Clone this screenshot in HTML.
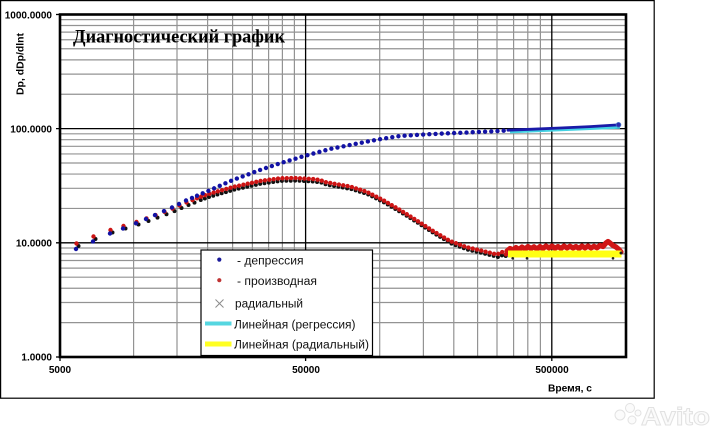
<!DOCTYPE html>
<html><head><meta charset="utf-8"><style>
html,body{margin:0;padding:0;background:#fff;}
svg{display:block;}
</style></head><body>
<svg width="720" height="439" viewBox="0 0 720 439" xmlns="http://www.w3.org/2000/svg">
<rect x="0" y="0" width="720" height="439" fill="#fff"/>
<rect x="0.6" y="0.6" width="653.6" height="397.6" fill="#fff" stroke="#000" stroke-width="1.2"/>

<!-- minor horizontal gridlines -->
<g stroke="#939393" stroke-width="1.2">
<line x1="60" x2="626" y1="322.62" y2="322.62"/><line x1="60" x2="626" y1="302.51" y2="302.51"/><line x1="60" x2="626" y1="288.24" y2="288.24"/><line x1="60" x2="626" y1="277.18" y2="277.18"/><line x1="60" x2="626" y1="268.13" y2="268.13"/><line x1="60" x2="626" y1="260.49" y2="260.49"/><line x1="60" x2="626" y1="253.87" y2="253.87"/><line x1="60" x2="626" y1="248.03" y2="248.03"/>
<line x1="60" x2="626" y1="208.42" y2="208.42"/><line x1="60" x2="626" y1="188.31" y2="188.31"/><line x1="60" x2="626" y1="174.04" y2="174.04"/><line x1="60" x2="626" y1="162.98" y2="162.98"/><line x1="60" x2="626" y1="153.93" y2="153.93"/><line x1="60" x2="626" y1="146.29" y2="146.29"/><line x1="60" x2="626" y1="139.67" y2="139.67"/><line x1="60" x2="626" y1="133.83" y2="133.83"/>
<line x1="60" x2="626" y1="94.22" y2="94.22"/><line x1="60" x2="626" y1="74.11" y2="74.11"/><line x1="60" x2="626" y1="59.84" y2="59.84"/><line x1="60" x2="626" y1="48.78" y2="48.78"/><line x1="60" x2="626" y1="39.73" y2="39.73"/><line x1="60" x2="626" y1="32.09" y2="32.09"/><line x1="60" x2="626" y1="25.47" y2="25.47"/><line x1="60" x2="626" y1="19.63" y2="19.63"/>
<!-- minor vertical gridlines -->
<line y1="14.5" y2="357" x1="133.6" x2="133.6"/><line y1="14.5" y2="357" x1="177" x2="177"/><line y1="14.5" y2="357" x1="207.6" x2="207.6"/><line y1="14.5" y2="357" x1="232.6" x2="232.6"/><line y1="14.5" y2="357" x1="252.4" x2="252.4"/><line y1="14.5" y2="357" x1="268.6" x2="268.6"/><line y1="14.5" y2="357" x1="282.4" x2="282.4"/><line y1="14.5" y2="357" x1="294.4" x2="294.4"/>
<line y1="14.5" y2="357" x1="379.7" x2="379.7"/><line y1="14.5" y2="357" x1="423.4" x2="423.4"/><line y1="14.5" y2="357" x1="453.8" x2="453.8"/><line y1="14.5" y2="357" x1="477.6" x2="477.6"/><line y1="14.5" y2="357" x1="497" x2="497"/><line y1="14.5" y2="357" x1="513.6" x2="513.6"/><line y1="14.5" y2="357" x1="527.8" x2="527.8"/><line y1="14.5" y2="357" x1="540.4" x2="540.4"/>
</g>
<!-- major gridlines -->
<g stroke="#000" stroke-width="1.3">
<line x1="56" x2="626" y1="128.6" y2="128.6"/>
<line x1="56" x2="626" y1="242.8" y2="242.8"/>
<line x1="305.6" x2="305.6" y1="14.5" y2="361"/>
<line x1="551.8" x2="551.8" y1="14.5" y2="361"/>
<line x1="56" x2="60" y1="14.5" y2="14.5"/>
<line x1="56" x2="60" y1="357" y2="357"/>
<line x1="60" x2="60" y1="357" y2="361"/>
</g>

<!-- Title -->
<text x="73" y="42.5" font-family="Liberation Serif, serif" font-weight="bold" font-size="18.5" textLength="212" lengthAdjust="spacingAndGlyphs" fill="#000">Диагностический график</text>

<!-- black radial markers (offset) -->
<g fill="#111">
<circle cx="78.5" cy="246" r="2"/><circle cx="95.5" cy="239" r="2"/><circle cx="112.5" cy="232.5" r="2"/><circle cx="125.5" cy="228.5" r="2"/><circle cx="138.5" cy="224.5" r="2"/><circle cx="148.5" cy="221" r="2"/><circle cx="157.5" cy="217.6" r="2"/><circle cx="166.5" cy="214.3" r="2"/><circle cx="174.5" cy="211.1" r="2"/><circle cx="181.5" cy="208" r="2"/><circle cx="188.5" cy="205" r="2"/><circle cx="194.5" cy="202.6" r="2"/>
</g>
<path transform="translate(1.5,2.6)" d="M197,198.25 L207,194.5 L233,187 L260,181 L280,178.3 L295,178 L313,179 L320,180 L325,182 L333,183.5 L350,186.5 L366,191.5 L383,200 L400,210 L416,220 L433,231 L450,241 L466,247 L483,251 L497,254.5 L502,252 L507,255" fill="none" stroke="#111" stroke-width="4" stroke-linecap="round" stroke-dasharray="0 4.4" stroke-dashoffset="2"/>

<!-- red derivative -->
<g fill="#cc1414">
<circle cx="76.5" cy="243.5" r="2.2"/><circle cx="93.5" cy="236.5" r="2.2"/><circle cx="110.5" cy="230" r="2.2"/><circle cx="123.5" cy="226" r="2.2"/><circle cx="136.5" cy="222" r="2.2"/><circle cx="146.5" cy="218.4" r="2.2"/><circle cx="155.5" cy="215.1" r="2.2"/><circle cx="164.5" cy="211.8" r="2.2"/><circle cx="172.5" cy="208.6" r="2.2"/><circle cx="179.5" cy="205.5" r="2.2"/><circle cx="186.5" cy="202.4" r="2.2"/><circle cx="192.5" cy="200.1" r="2.2"/>
</g>
<path d="M197,198.25 L207,194.5 L233,187 L260,181 L280,178.3 L295,178 L313,179 L320,180 L325,182 L333,183.5 L350,186.5 L366,191.5 L383,200 L400,210 L416,220 L433,231 L450,241 L466,247 L483,251 L497,254.5 L502,252 L507,255" fill="none" stroke="#cc1414" stroke-width="4.4" stroke-linecap="round" stroke-dasharray="0 4.4"/>
<polyline points="507,251 510,248.5 513,250 516,247.5 519,249.5 522,247 525,249 528,246.5 531,248.5 534,246.8 537,249 540,246.5 543,248.5 546,246 549,248 552,246 555,248.3 558,246.5 561,248.5 564,246 567,248 570,246.2 573,248 576,246.5 579,248.5 582,246 585,248 588,246 591,248 594,246.3 597,247.8 600,245.5 603,246.5 606,243 608,241.5 610,243 613,245.5 616,247 619,249.5 621,252" fill="none" stroke="#d01616" stroke-width="5.2" stroke-linejoin="round" stroke-linecap="round"/>

<!-- yellow radial trendline -->
<line x1="508" y1="254" x2="621.5" y2="254" stroke="#ffff14" stroke-width="7"/>
<g fill="#222"><circle cx="512.7" cy="258.3" r="1.3"/><circle cx="527" cy="258.3" r="1.3"/><circle cx="613" cy="258.3" r="1.3"/><circle cx="621" cy="253" r="1.5"/></g>

<!-- blue depression -->
<g fill="#1212a4">
<circle cx="76" cy="249" r="2.2"/><circle cx="93" cy="241.5" r="2.2"/><circle cx="110" cy="233.5" r="2.2"/><circle cx="123" cy="228.5" r="2.2"/><circle cx="136" cy="223.3" r="2.2"/><circle cx="146" cy="219" r="2.2"/><circle cx="155" cy="215.1" r="2.2"/><circle cx="164" cy="211.1" r="2.2"/><circle cx="172" cy="207.5" r="2.2"/><circle cx="179" cy="204" r="2.2"/><circle cx="186" cy="200.5" r="2.2"/><circle cx="192" cy="197.9" r="2.2"/>
</g>
<path d="M197,195.75 L207,191.5 L233,180 L260,170 L280,163.3 L305,155.8 L330,149 L355,144 L378,139.5 L400,136 L433,134 L467,132.5 L500,131 L508,130.4" fill="none" stroke="#1212a4" stroke-width="4.4" stroke-linecap="round" stroke-dasharray="0 6.2"/>
<!-- cyan regression -->
<line x1="510" y1="131.6" x2="620" y2="127" stroke="#44d2e2" stroke-width="3.6"/>
<polyline points="508,130.2 530,129.3 560,128 590,126.6 618,124.9" fill="none" stroke="#1a1aa8" stroke-width="2.8" stroke-linecap="round"/>
<circle cx="618.5" cy="124.8" r="2.4" fill="#2a2ab0" stroke="#4a7ac8" stroke-width="0.8"/>

<!-- plot border -->
<rect x="60" y="14.5" width="566" height="342.5" fill="none" stroke="#000" stroke-width="2.6"/>

<!-- legend -->
<rect x="201" y="250" width="171.5" height="105.5" fill="#fff" stroke="#000" stroke-width="1.2"/>
<circle cx="219.3" cy="259.6" r="2.1" fill="#1a1a9a"/>
<circle cx="219.3" cy="280.2" r="2.1" fill="#c03434"/>
<g stroke="#8a8a8a" stroke-width="1"><line x1="215.5" y1="299.5" x2="223.5" y2="307.5"/><line x1="223.5" y1="299.5" x2="215.5" y2="307.5"/></g>
<line x1="205" y1="323.5" x2="231.5" y2="323.5" stroke="#55d6e0" stroke-width="4"/>
<line x1="205" y1="344" x2="231.5" y2="344" stroke="#ffff22" stroke-width="5"/>
<g font-family="Liberation Sans, Arial, sans-serif" font-size="11.5" fill="#111">
<text x="237" y="264.5" textLength="66.5" lengthAdjust="spacingAndGlyphs">- депрессия</text>
<text x="237" y="285" textLength="80" lengthAdjust="spacingAndGlyphs">- производная</text>
<text x="235" y="307.3" textLength="68" lengthAdjust="spacingAndGlyphs">радиальный</text>
<text x="234" y="328.3" textLength="121.5" lengthAdjust="spacingAndGlyphs">Линейная (регрессия)</text>
<text x="234" y="348.5" textLength="135" lengthAdjust="spacingAndGlyphs">Линейная (радиальный)</text>
</g>

<!-- axis labels -->
<g font-family="Liberation Sans, Arial, sans-serif" font-weight="bold" font-size="10" fill="#000">
<text x="52" y="18.3" text-anchor="end">1000.0000</text>
<text x="52" y="132.3" text-anchor="end">100.0000</text>
<text x="52" y="246.6" text-anchor="end">10.0000</text>
<text x="52" y="360.6" text-anchor="end">1.0000</text>
<text x="60" y="372.8" text-anchor="middle">5000</text>
<text x="306" y="372.8" text-anchor="middle">50000</text>
<text x="552" y="372.8" text-anchor="middle">500000</text>
<text x="548" y="391.5" textLength="44" lengthAdjust="spacingAndGlyphs">Время, с</text>
<text transform="translate(23.5,64) rotate(-90)" text-anchor="middle" font-size="10" textLength="62" lengthAdjust="spacingAndGlyphs">Dp, dDp/dlnt</text>
</g>

<!-- faint watermark -->
<g fill="#fbfbfb" stroke="#e2e2e2" stroke-width="1">
<circle cx="620" cy="415" r="5"/><circle cx="630" cy="408" r="4.5"/><circle cx="632" cy="420" r="4"/><circle cx="638" cy="413" r="3"/>
<text x="641" y="425" font-family="Liberation Sans, Arial, sans-serif" font-weight="bold" font-size="25" textLength="69" lengthAdjust="spacingAndGlyphs">Avito</text>
</g>
</svg>
</body></html>
